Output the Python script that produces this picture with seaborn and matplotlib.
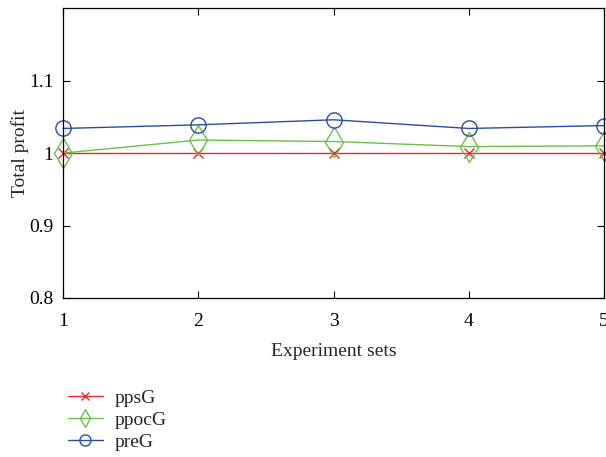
import matplotlib
matplotlib.use("Agg")
import matplotlib.pyplot as plt
import seaborn as sns
import pandas as pd
from matplotlib.lines import Line2D

experiment_sets = [1, 2, 3, 4, 5]
ppsG = [1.0, 1.0, 1.0, 1.0, 1.0]
ppocG = [1.0, 1.018, 1.016, 1.009, 1.010]
preG = [1.034, 1.039, 1.046, 1.034, 1.038]
series_names = ["ppsG", "ppocG", "preG"]

sns.set_style("ticks")
plt.rcParams["font.family"] = ["Liberation Serif", "DejaVu Serif"]

fig = plt.figure(figsize=(6.06, 4.57), dpi=100)
ax = fig.add_axes([0.104, 0.348, 0.893, 0.634])

palette = {"ppsG": "#e8282a", "ppocG": "#6cc04a", "preG": "#2a4ca0"}
markers = {"ppsG": "x", "ppocG": "d", "preG": "o"}
msize = {"ppsG": 7, "ppocG": 15, "preG": 11}

for name, vals in zip(series_names, [ppsG, ppocG, preG]):
    d = pd.DataFrame({"Experiment sets": experiment_sets, "Total profit": vals})
    sns.lineplot(data=d, x="Experiment sets", y="Total profit", ax=ax,
                 color=palette[name], marker=markers[name], markersize=msize[name],
                 markerfacecolor="none", markeredgecolor=palette[name],
                 markeredgewidth=1.0, linewidth=1.0, clip_on=False)

ax.set_xlim(1, 5)
ax.set_ylim(0.8, 1.2)
ax.set_xticks(experiment_sets)
ax.set_xticklabels(["1", "2", "3", "4", "5"])
ax.set_yticks([0.8, 0.9, 1.0, 1.1])
ax.set_yticklabels(["0.8", "0.9", "1", "1.1"])
ax.tick_params(direction="in", top=True, right=True, length=5, width=0.8,
               labelsize=14, colors="black")
ax.tick_params(axis="x", pad=11)
ax.tick_params(axis="y", pad=7)
for s in ax.spines.values():
    s.set_visible(True)
    s.set_color("black")
    s.set_linewidth(0.9)
ax.set_xlabel("Experiment sets", fontsize=14, labelpad=9)
ax.set_ylabel("Total profit", fontsize=14)
ax.yaxis.set_label_coords(-0.062, 0.5)

handles = [Line2D([], [], color=palette[n], marker=markers[n], markerfacecolor="none",
                  markersize=[6, 9, 8][i], linewidth=1.0) for i, n in enumerate(series_names)]
fig.legend(handles, series_names, loc="upper left", bbox_to_anchor=(0.112, 0.148),
           frameon=False, fontsize=14, handlelength=1.8, labelspacing=0.22,
           handletextpad=0.6, borderaxespad=0, borderpad=0)

fig.savefig("out.png", dpi=100)
